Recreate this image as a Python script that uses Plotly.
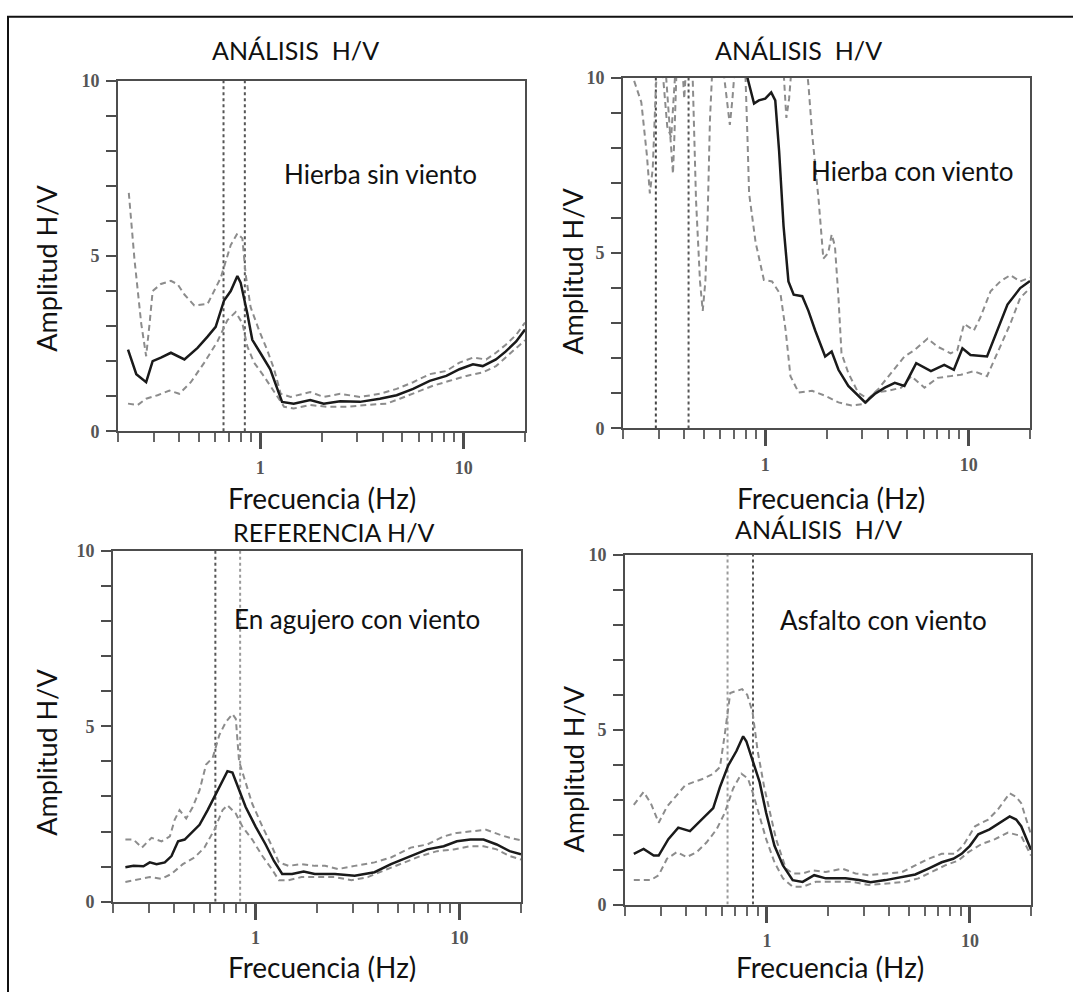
import plotly.graph_objects as go
import math

W, H = 1073, 992

# ---------------- DATA ----------------
# Top-left: Hierba sin viento
TL_F_MEAN = [0.224,0.246,0.275,0.296,0.325,0.364,0.424,0.492,0.551,0.604,0.664,0.716,0.772,0.801,0.864,0.914,1.0,1.12,1.28,1.46,1.76,2.05,2.47,3.09,3.87,4.68,5.64,6.80,8.21,9.53,11.1,12.4,14.4,16.1,18.1,20]
TL_MEAN = [2.33,1.63,1.40,2.0,2.10,2.24,2.05,2.38,2.70,2.98,3.73,4.0,4.43,4.24,3.36,2.61,2.24,1.77,0.84,0.79,0.89,0.79,0.86,0.84,0.93,1.03,1.21,1.44,1.58,1.77,1.91,1.86,2.05,2.28,2.56,2.9]
TL_F_UP = [0.226,0.233,0.241,0.260,0.275,0.286,0.296,0.325,0.364,0.393,0.424,0.474,0.551,0.640,0.716,0.772,0.817,0.848,0.897,0.985,1.08,1.17,1.26,1.41,1.76,2.05,2.47,3.09,3.87,4.68,5.64,6.80,8.21,9.53,11.1,12.9,14.4,16.1,18.1,20]
TL_UP = [6.8,5.9,4.9,3.08,2.14,3.08,4.0,4.2,4.29,4.19,3.9,3.59,3.63,4.38,5.31,5.64,5.5,4.47,3.54,2.89,2.33,1.77,1.07,0.98,1.12,0.98,1.07,0.98,1.07,1.21,1.40,1.63,1.72,1.96,2.10,2.05,2.24,2.47,2.75,3.1]
TL_F_LO = [0.224,0.250,0.275,0.313,0.358,0.400,0.456,0.531,0.616,0.690,0.757,0.817,0.864,0.932,1.04,1.17,1.31,1.46,1.76,2.13,2.66,3.34,4.18,4.85,5.86,7.07,8.52,10.3,12.4,14.4,16.7,20]
TL_LO = [0.79,0.75,0.93,1.03,1.16,1.07,1.40,1.96,2.56,3.17,3.40,3.08,2.42,1.96,1.58,1.12,0.70,0.65,0.75,0.70,0.70,0.75,0.79,0.93,1.12,1.30,1.44,1.58,1.68,1.86,2.19,2.6]
TL_F0 = [0.66, 0.84]

# Top-right: Hierba con viento
TR_F_MEAN = [0.2,0.79,0.817,0.881,0.93,1.0,1.07,1.12,1.17,1.23,1.30,1.38,1.52,1.63,1.76,1.97,2.12,2.29,2.56,2.86,3.10,3.45,3.87,4.33,4.83,5.52,6.52,7.58,8.45,9.31,10.2,12.3,13.8,15.5,17.9,20]
TR_MEAN = [13,10.6,10.0,9.26,9.35,9.40,9.58,9.35,7.9,5.77,4.19,3.81,3.77,3.35,2.79,2.05,2.19,1.67,1.21,0.93,0.74,0.98,1.16,1.30,1.21,1.86,1.63,1.81,1.67,2.28,2.09,2.05,2.79,3.53,4.0,4.2]
TR_F_UP = [0.2,0.30,0.315,0.33,0.345,0.36,0.385,0.40,0.415,1.2,1.23,1.27,1.31,1.36,1.55,1.60,1.63,1.70,1.83,1.93,2.04,2.12,2.20,2.29,2.37,2.56,2.86,3.2,3.59,4.16,4.83,5.41,6.28,7.03,8.15,8.79,9.49,10.6,11.4,12.8,14.3,16.0,17.9,20]
TR_UP = [12,11,10,8.6,8.3,10,11,9.4,11,11,10.2,8.85,9.4,10.6,11,10.3,9.8,8.4,6.5,4.84,5.0,5.53,5.2,3.72,2.14,1.58,1.02,0.84,1.12,1.58,2.05,2.23,2.56,2.33,2.14,2.23,2.98,2.79,3.16,3.91,4.19,4.37,4.19,4.3]
TR_F_LO = [0.2,0.224,0.246,0.262,0.271,0.28,0.29,0.30,0.326,0.338,0.346,0.352,0.358,0.37,0.44,0.457,0.478,0.493,0.508,0.521,0.535,0.547,0.60,0.628,0.653,0.670,0.69,0.703,0.75,0.80,0.817,0.833,0.897,0.985,1.08,1.19,1.26,1.33,1.46,1.70,1.97,2.29,2.66,3.09,3.45,4.01,4.66,5.22,6.06,7.03,8.15,9.15,10.6,12.3,13.8,16.0,17.9,20]
TR_LO = [11,10,9.3,7.8,6.7,7.4,9.7,11,10,8.6,7.9,7.26,8.37,11,10,6.5,4.19,3.35,4.19,6.0,8.8,10,11,10,9.2,8.65,9.4,10,11,10,8.37,6.7,5.3,4.23,4.19,3.81,2.79,1.49,1.02,1.07,0.93,0.74,0.65,0.70,1.02,1.07,1.16,1.49,1.16,1.44,1.49,1.53,1.63,1.49,2.14,2.98,3.72,4.0]
TR_F0 = [0.29, 0.42]

# Bottom-left: En agujero con viento
BL_F_MEAN = [0.230,0.252,0.282,0.303,0.327,0.359,0.387,0.417,0.449,0.483,0.531,0.582,0.640,0.689,0.728,0.770,0.830,0.894,1.0,1.12,1.23,1.35,1.51,1.72,1.95,2.45,3.06,3.83,4.61,5.76,6.94,8.36,9.70,11.3,13.1,15.2,17.6,20]
BL_MEAN = [0.98,1.02,1.01,1.12,1.07,1.12,1.30,1.72,1.77,1.96,2.19,2.61,3.07,3.45,3.72,3.68,3.17,2.70,2.14,1.63,1.16,0.79,0.79,0.86,0.79,0.79,0.74,0.84,1.07,1.30,1.49,1.58,1.72,1.77,1.77,1.63,1.44,1.35]
BL_F_UP = [0.230,0.252,0.277,0.309,0.346,0.380,0.401,0.424,0.457,0.492,0.531,0.572,0.616,0.664,0.715,0.770,0.800,0.830,0.878,0.963,1.08,1.18,1.30,1.45,1.68,1.95,2.19,2.54,3.06,3.83,4.61,5.76,6.94,8.36,9.70,11.3,13.5,15.7,17.6,20]
BL_UP = [1.77,1.77,1.54,1.82,1.72,1.86,2.33,2.61,2.37,2.70,3.17,3.91,4.10,4.75,5.12,5.35,5.21,4.0,3.54,2.79,2.14,1.68,1.12,1.02,1.07,1.02,1.02,0.93,1.02,1.12,1.26,1.54,1.63,1.86,1.96,2.0,2.05,1.91,1.82,1.75]
BL_F_LO = [0.230,0.262,0.303,0.346,0.387,0.440,0.502,0.561,0.628,0.689,0.728,0.800,0.862,0.963,1.08,1.20,1.30,1.45,1.68,1.95,2.45,2.95,3.55,4.44,5.35,6.44,7.76,9.35,11.3,13.1,15.2,17.6,20]
BL_LO = [0.56,0.63,0.70,0.65,0.79,1.07,1.26,1.54,2.05,2.61,2.75,2.51,2.14,1.77,1.30,0.93,0.61,0.61,0.70,0.70,0.70,0.61,0.70,0.93,1.12,1.30,1.44,1.49,1.58,1.58,1.49,1.30,1.2]
BL_F0 = [0.635, 0.84]

# Bottom-right: Asfalto con viento
BR_F_MEAN = [0.221,0.247,0.277,0.293,0.327,0.366,0.418,0.468,0.544,0.587,0.644,0.708,0.764,0.792,0.854,0.921,0.992,1.09,1.20,1.34,1.50,1.71,1.95,2.44,2.84,3.24,3.84,4.63,5.38,6.25,7.26,8.28,9.10,10.0,11.0,12.5,14.0,15.7,16.9,17.9,20]
BR_MEAN = [1.45,1.59,1.40,1.40,1.87,2.20,2.10,2.38,2.76,3.36,3.97,4.39,4.81,4.67,4.11,3.50,2.62,1.68,1.12,0.70,0.65,0.84,0.75,0.75,0.70,0.64,0.70,0.79,0.86,1.03,1.21,1.31,1.45,1.68,2.01,2.15,2.34,2.52,2.43,2.24,1.57]
BR_F_UP = [0.221,0.247,0.268,0.293,0.322,0.360,0.396,0.435,0.486,0.544,0.587,0.620,0.66,0.755,0.80,0.85,0.90,0.97,1.03,1.11,1.24,1.34,1.50,1.68,1.95,2.35,2.73,3.18,3.84,4.63,5.38,6.25,7.26,8.4,9.25,10.6,12.3,13.7,15.7,16.9,17.9,20]
BR_UP = [2.85,3.22,2.90,2.34,2.80,3.13,3.41,3.50,3.60,3.74,3.93,4.86,6.05,6.16,6.0,5.5,4.4,3.36,2.71,1.87,1.03,0.89,0.89,0.98,0.93,1.03,0.89,0.84,0.89,0.93,1.12,1.31,1.45,1.45,1.68,2.24,2.43,2.71,3.18,3.08,2.90,2.0]
BR_F_LO = [0.221,0.268,0.293,0.322,0.360,0.403,0.451,0.505,0.565,0.620,0.682,0.749,0.807,0.854,0.921,0.992,1.09,1.20,1.34,1.50,1.74,2.10,2.63,3.18,3.84,4.80,5.58,6.49,7.55,8.77,9.84,11.4,13.3,15.4,17.9,20]
BR_LO = [0.70,0.70,0.84,1.31,1.50,1.36,1.50,1.78,2.15,2.62,3.32,3.74,3.60,3.18,2.52,1.87,1.21,0.75,0.51,0.51,0.65,0.65,0.65,0.56,0.61,0.65,0.75,0.93,1.12,1.26,1.50,1.73,1.87,2.06,1.96,1.4]
BR_F0 = [0.64, 0.854]

TITLES = ["ANÁLISIS\u00a0 H/V", "ANÁLISIS\u00a0 H/V", "REFERENCIA H/V", "ANÁLISIS\u00a0 H/V"]
LABELS = ["Hierba sin viento", "Hierba con viento", "En agujero con viento", "Asfalto con viento"]
X_TITLE = "Frecuencia (Hz)"
Y_TITLE = "Amplitud H/V"
X_MAJOR = [1, 10]
X_MINOR = [0.2,0.3,0.4,0.5,0.6,0.7,0.8,0.9,2,3,4,5,6,7,8,9,20]
Y_TICKS = list(range(0, 11))
Y_LABELS = {0: "0", 5: "5", 10: "10"}

# ---------------- LAYOUT (pixel boxes) ----------------
PANELS = [
    dict(box=(118, 525, 72, 430), data=(TL_F_MEAN, TL_MEAN, TL_F_UP, TL_UP, TL_F_LO, TL_LO, TL_F0),
         title=(295, 41), xt=(322, 498), yt=(47, 264), lab=(380, 167), f0col=["#555555", "#555555"]),
    dict(box=(623, 1030, 69, 427), data=(TR_F_MEAN, TR_MEAN, TR_F_UP, TR_UP, TR_F_LO, TR_LO, TR_F0),
         title=(798, 41), xt=(831, 498), yt=(573, 267), lab=(912, 164), f0col=["#444444", "#555555"]),
    dict(box=(113, 521, 552, 910), data=(BL_F_MEAN, BL_MEAN, BL_F_UP, BL_UP, BL_F_LO, BL_LO, BL_F0),
         title=(334, 533), xt=(322, 977), yt=(47, 758), lab=(357, 622), f0col=["#555555", "#9a9a9a"]),
    dict(box=(625, 1031, 556, 913), data=(BR_F_MEAN, BR_MEAN, BR_F_UP, BR_UP, BR_F_LO, BR_LO, BR_F0),
         title=(818, 530), xt=(830, 977), yt=(573, 775), lab=(883, 623), f0col=["#9a9a9a", "#555555"]),
]

def px(x):
    return x / W

def py(y):
    return 1 - y / H

fig = go.Figure()
annotations = []
TXT_FONT = "Lato, 'Open Sans', sans-serif"
TICK_FONT = dict(family="'Liberation Serif', 'DejaVu Serif', serif", size=18, color="#555555", weight="bold")

for i, p in enumerate(PANELS):
    n = "" if i == 0 else str(i + 1)
    xa, ya = "x" + n, "y" + n
    fm, m, fu, u, fl, l, f0 = p["data"]
    for k, f in enumerate(f0):
        fig.add_trace(go.Scatter(x=[f, f], y=[0, 10], xaxis=xa, yaxis=ya, mode="lines",
                                 line=dict(color=p["f0col"][k], width=2, dash="dot"), showlegend=False))
    for fx, fy in ((fu, u), (fl, l)):
        fig.add_trace(go.Scatter(x=fx, y=fy, xaxis=xa, yaxis=ya, mode="lines",
                                 line=dict(color="#8c8c8c", width=2, dash="6px,4px"), showlegend=False))
    fig.add_trace(go.Scatter(x=fm, y=m, xaxis=xa, yaxis=ya, mode="lines",
                             line=dict(color="#1a1a1a", width=2.5), showlegend=False))

    x0, x1, y0, y1 = p["box"]
    axis_common = dict(showline=True, linecolor="#4d4d4d", linewidth=2, mirror=True,
                       showgrid=False, zeroline=False, ticks="outside", tickcolor="#4d4d4d",
                       tickfont=TICK_FONT)
    fig.update_layout(**{
        "xaxis" + n: dict(axis_common, type="log", range=[math.log10(0.2), math.log10(20)],
                          domain=[px(x0), px(x1)], anchor=ya,
                          tickvals=X_MAJOR, ticktext=[str(v) for v in X_MAJOR],
                          ticklen=16, tickwidth=2.5, ticklabelstandoff=3,
                          minor=dict(tickvals=X_MINOR, ticklen=9, tickwidth=1.5,
                                     tickcolor="#666666", ticks="outside", showgrid=False)),
        "yaxis" + n: dict(axis_common, range=[0, 10], domain=[py(y1), py(y0)], anchor=xa,
                          tickvals=Y_TICKS, ticktext=[Y_LABELS.get(v, "") for v in Y_TICKS],
                          ticklen=10, tickwidth=2, ticklabelstandoff=3),
    })
    tx, ty = p["title"]
    annotations.append(dict(x=px(tx), y=py(ty), xref="paper", yref="paper", text=TITLES[i],
                            showarrow=False, xanchor="center", yanchor="middle",
                            font=dict(family=TXT_FONT, size=25, color="#111111")))
    xx, xy = p["xt"]
    annotations.append(dict(x=px(xx), y=py(xy), xref="paper", yref="paper", text=X_TITLE,
                            showarrow=False, xanchor="center", yanchor="middle",
                            font=dict(family=TXT_FONT, size=28, color="#111111")))
    yx, yy = p["yt"]
    annotations.append(dict(x=px(yx), y=py(yy), xref="paper", yref="paper", text=Y_TITLE,
                            showarrow=False, xanchor="center", yanchor="middle", textangle=-90,
                            font=dict(family=TXT_FONT, size=27, color="#111111")))
    lx, ly = p["lab"]
    annotations.append(dict(x=px(lx), y=py(ly), xref="paper", yref="paper", text=LABELS[i],
                            showarrow=False, xanchor="center", yanchor="middle",
                            font=dict(family=TXT_FONT, size=26, color="#111111")))

fig.update_layout(
    width=W, height=H, margin=dict(l=0, r=0, t=0, b=0),
    paper_bgcolor="white", plot_bgcolor="white", showlegend=False,
    annotations=annotations,
    shapes=[dict(type="rect", xref="paper", yref="paper", x0=px(8), x1=px(1085), y0=py(1005), y1=py(7),
                 line=dict(color="#111111", width=2), layer="above")],
)

fig.write_html("out.html")
